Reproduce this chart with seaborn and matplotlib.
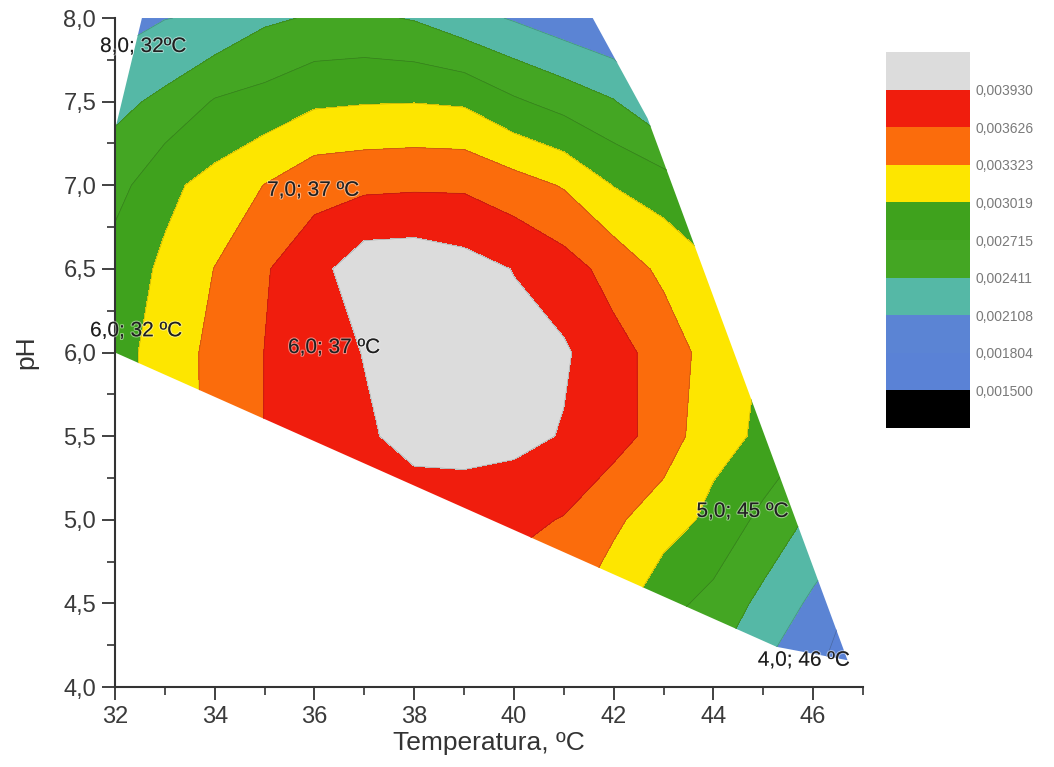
import numpy as np
import matplotlib
matplotlib.use("Agg")
import matplotlib.pyplot as plt
from matplotlib.colors import ListedColormap, BoundaryNorm
from matplotlib.patches import Polygon
from matplotlib.ticker import FuncFormatter
import matplotlib.patheffects as pe
import seaborn as sns

# Experimental grid: temperature (ºC) and pH
temperature = [32, 33, 34, 35, 36, 37, 38, 39, 40, 41, 42, 43, 44, 45, 46, 47]
ph_values = [4.0, 4.5, 5.0, 5.5, 6.0, 6.5, 7.0, 7.5, 8.0]

# Response surface (x 1e-3), one list per pH row
rate_ph40 = [2.90, 3.10, 3.20, 3.30, 3.35, 3.38, 3.40, 3.38, 3.30, 3.20, 2.95, 2.47, 2.36, 2.05, 1.82, 1.55]
rate_ph45 = [3.00, 3.20, 3.35, 3.45, 3.52, 3.56, 3.58, 3.57, 3.50, 3.40, 3.15, 2.82, 2.62, 2.33, 2.05, 1.68]
rate_ph50 = [3.05, 3.25, 3.45, 3.58, 3.66, 3.72, 3.77, 3.75, 3.70, 3.61, 3.38, 3.15, 2.95, 2.63, 2.35, 2.10]
rate_ph55 = [2.90, 3.15, 3.40, 3.63, 3.72, 3.89, 4.02, 4.05, 4.02, 3.91, 3.74, 3.50, 3.10, 2.98, 2.70, 2.50]
rate_ph60 = [2.88, 3.18, 3.39, 3.63, 3.80, 3.94, 4.05, 4.08, 4.03, 3.97, 3.72, 3.52, 3.17, 3.00, 2.75, 2.55]
rate_ph65 = [2.86, 3.07, 3.33, 3.60, 3.82, 4.12, 4.14, 4.05, 3.92, 3.75, 3.52, 3.25, 3.05, 2.85, 2.60, 2.40]
rate_ph70 = [2.60, 2.95, 3.12, 3.33, 3.52, 3.56, 3.58, 3.58, 3.45, 3.30, 3.01, 2.87, 2.65, 2.45, 2.25, 2.05]
rate_ph75 = [2.33, 2.48, 2.74, 2.82, 2.97, 3.00, 3.01, 2.98, 2.76, 2.60, 2.43, 2.10, 1.90, 1.75, 1.60, 1.45]
rate_ph80 = [1.98, 2.10, 2.15, 2.36, 2.44, 2.46, 2.39, 2.22, 2.08, 1.93, 1.80, 1.65, 1.50, 1.35, 1.20, 1.05]

# Boundary of the explored domain
domain_t = [32.0, 32.0, 32.54, 41.58, 42.68, 46.69, 45.27]
domain_ph = [6.0, 7.33, 8.0, 8.0, 7.40, 4.16, 4.24]

# Contour levels and band colours
levels = [0.0015, 0.001804, 0.002108, 0.002411, 0.002715, 0.003019, 0.003323, 0.003626, 0.00393]
band_colors = ["#5a82d6", "#5b84d4", "#55b8a6", "#44a623", "#3fa21d",
               "#fde600", "#fb6c0c", "#f01d0d"]
under_color = "#000000"
over_color = "#dcdcdc"

# Labelled experimental points
point_labels = ["8,0; 32ºC", "7,0; 37 ºC", "6,0; 32 ºC", "6,0; 37 ºC", "5,0; 45 ºC", "4,0; 46 ºC"]
label_t = [31.70, 35.05, 31.50, 35.47, 43.66, 44.89]
label_ph = [7.83, 6.97, 6.13, 6.03, 5.05, 4.16]

sns.set_style("ticks")
plt.rcParams["font.family"] = ["Liberation Sans", "DejaVu Sans"]

rate = np.array([rate_ph40, rate_ph45, rate_ph50, rate_ph55, rate_ph60,
                 rate_ph65, rate_ph70, rate_ph75, rate_ph80]) * 1e-3
T, P = np.meshgrid(temperature, ph_values)

cmap = ListedColormap(band_colors)
cmap.set_under(under_color)
cmap.set_over(over_color)
norm = BoundaryNorm(levels, cmap.N)

fig = plt.figure(figsize=(10.54, 7.67), dpi=100)
ax = fig.add_axes([0.1091, 0.1043, 0.7097, 0.8722])

cf = ax.contourf(T, P, rate, levels=levels, cmap=cmap, norm=norm, extend="both")
cl = ax.contour(T, P, rate, levels=levels, colors="#202020", linewidths=0.5, alpha=0.28)

domain = Polygon(np.column_stack([domain_t, domain_ph]), closed=True,
                 facecolor="none", edgecolor="none", transform=ax.transData)
ax.add_patch(domain)
cf.set_clip_path(domain)
cl.set_clip_path(domain)

for txt, tx, py in zip(point_labels, label_t, label_ph):
    ax.text(tx, py, txt, ha="left", va="center", fontsize=15, color="#1e1e1e",
            path_effects=[pe.withStroke(linewidth=1.6, foreground=(1, 1, 1, 0.45))],
            zorder=5)

ax.set_xlim(32, 47)
ax.set_ylim(4, 8)
ax.set_xticks(np.arange(32, 47, 2))
ax.set_xticks(np.arange(33, 48, 2), minor=True)
ax.set_yticks(np.arange(4.0, 8.01, 0.5))
ax.set_yticks(np.arange(4.25, 8.0, 0.5), minor=True)
ax.yaxis.set_major_formatter(FuncFormatter(lambda v, p: f"{v:.1f}".replace(".", ",")))
ax.tick_params(which="major", direction="out", length=9.5, width=1.3,
               labelsize=17, labelcolor="#3a3a3a", color="#333333", pad=4)
ax.tick_params(which="minor", direction="out", length=5.5, width=1.2, color="#333333")
for s in ("left", "bottom"):
    ax.spines[s].set_linewidth(1.5)
    ax.spines[s].set_color("#333333")
sns.despine(ax=ax)

ax.set_xlabel("Temperatura, ºC", fontsize=19, color="#333333", labelpad=2)
ax.set_ylabel("pH", fontsize=19, color="#333333", labelpad=18)

cax = fig.add_axes([0.8406, 0.442, 0.0797, 0.490])
cb = fig.colorbar(cf, cax=cax, extend="both", extendrect=True,
                  extendfrac=0.125, ticks=levels)
cb.outline.set_visible(False)
cb.ax.set_yticklabels([f"{v:.6f}".replace(".", ",") for v in levels])
cb.ax.tick_params(length=0, labelsize=10, labelcolor="#7a7a7a", pad=4)
for sp in cb.ax.spines.values():
    sp.set_visible(False)

fig.savefig("out.png", dpi=100)
